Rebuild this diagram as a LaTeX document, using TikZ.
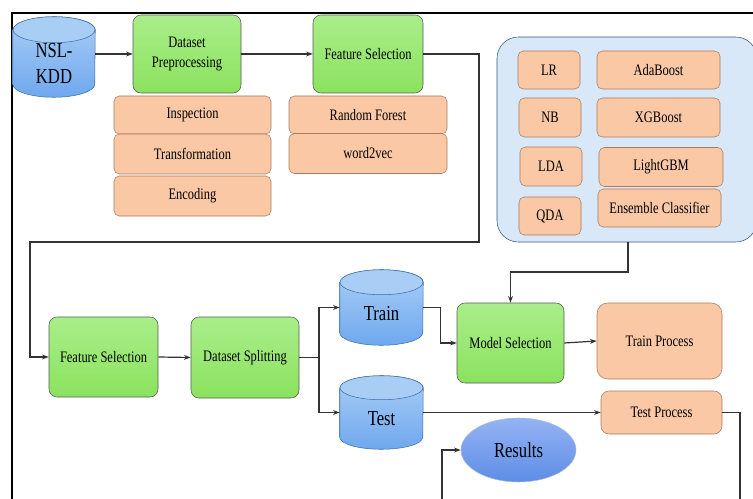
\documentclass[tikz,border=0pt]{standalone}
\usepackage{fontspec}
\setmainfont{Liberation Serif}[FakeStretch=0.78]
\usetikzlibrary{arrows.meta,shapes.geometric}

\definecolor{grnTop}{HTML}{A9EE8A}
\definecolor{grnBot}{HTML}{8BE25E}
\definecolor{orgFill}{HTML}{FAC8A5}
\definecolor{orgLine}{HTML}{A87C5E}
\definecolor{cylTop}{HTML}{A9CEF6}
\definecolor{cylBot}{HTML}{6FA8EE}
\definecolor{cylLine}{HTML}{3F6FA8}
\definecolor{resTop}{HTML}{94B3F4}
\definecolor{resBot}{HTML}{5E8DE6}
\definecolor{panelFill}{HTML}{D8E8F8}
\definecolor{panelLine}{HTML}{3A5583}

\newcommand{\lblfont}{\fontsize{12}{14.4}\selectfont}
\newcommand{\bigfont}{\fontsize{16}{19}\selectfont}

\tikzset{
  sz/.style 2 args={minimum width=#1*0.75pt, minimum height=#2*0.75pt, inner sep=0pt},
  stepbox/.style={draw=black!65, rounded corners=6pt, top color=grnTop, bottom color=grnBot, font=\lblfont, align=center},
  methbox/.style={draw=orgLine, fill=orgFill, rounded corners=4pt, font=\lblfont, align=center},
  link/.style={draw=black!80, line width=0.9pt},
  arr/.style={link, -{Stealth[length=5pt,width=3.6pt]}},
}

% database drum: name, centre, width, height, cap radius, label
\newcommand{\dbcyl}[6]{%
  \node[sz={#3}{#4}] (#1) at (#2) {};
  \path[draw=cylLine, top color=cylTop, bottom color=cylBot]
    ([yshift=-#5*0.75pt]#1.north west) -- ([yshift=#5*0.75pt]#1.south west)
    arc[start angle=180, end angle=360, x radius=#3*0.375pt, y radius=#5*0.75pt]
    -- ([yshift=-#5*0.75pt]#1.north east)
    arc[start angle=0, end angle=180, x radius=#3*0.375pt, y radius=#5*0.75pt] -- cycle;
  \draw[cylLine, fill=cylTop] ([yshift=-#5*0.75pt]#1.north) ellipse[x radius=#3*0.375pt, y radius=#5*0.75pt];
  \node[font=\bigfont, align=center] at ([yshift=-#5*0.375pt]#1.center) {#6};
}

\begin{document}
\begin{tikzpicture}[x=0.75pt, y=-0.75pt]
  \useasboundingbox (0,0) rectangle (753,499);
  \clip (0,0) rectangle (753,499);

  % outer frame
  \draw[line width=2pt, black] (12,13) rectangle (790,560);

  % top row
  \dbcyl{nsl}{54,57}{82}{80}{13}{NSL-\\KDD}
  \node[stepbox, sz={108}{78}] (dpre) at (187,54) {Dataset\\Preprocessing};
  \node[stepbox, sz={110}{78}] (fsel) at (368,54) {Feature Selection};

  \node[methbox, sz={157}{38}] (insp) at (192.5,115) {Inspection};
  \node[methbox, sz={157}{40}] (trans) at (192.5,154) {Transformation};
  \node[methbox, sz={157}{40}] (enc) at (192.5,196) {Encoding};

  \node[methbox, sz={158}{38}] (rf) at (368,115) {Random Forest};
  \node[methbox, sz={158}{40}] (w2v) at (368,153.5) {word2vec};

  % classifier panel
  \node[sz={260}{205}, rounded corners=16pt, fill=panelFill, draw=panelLine] (models) at (627,139.5) {};
  \node[methbox, sz={62}{38}] (lr) at (549,70) {LR};
  \node[methbox, sz={123}{38}] (ada) at (658.5,70) {AdaBoost};
  \node[methbox, sz={62}{39}] (nb) at (550,117.5) {NB};
  \node[methbox, sz={123}{39}] (xgb) at (658.5,117.5) {XGBoost};
  \node[methbox, sz={62}{39}] (lda) at (551,166.5) {LDA};
  \node[methbox, sz={124}{39}] (lgbm) at (661,167) {LightGBM};
  \node[methbox, sz={62}{38}] (qda) at (550,216) {QDA};
  \node[methbox, sz={123}{38}] (ens) at (659.5,208) {Ensemble Classifier};

  % lower row
  \node[stepbox, sz={109}{80}] (fsel2) at (103.5,357) {Feature Selection};
  \node[stepbox, sz={108}{81}] (dsplit) at (245,357.5) {Dataset Splitting};
  \dbcyl{train}{381.5,307.5}{83}{75}{12.5}{Train}
  \dbcyl{test}{381.5,412.5}{83}{73}{12}{Test}
  \node[stepbox, sz={107}{80}] (msel) at (510.5,343) {Model Selection};
  \node[methbox, sz={125}{76}, rounded corners=8pt] (trproc) at (659.5,341) {Train Process};
  \node[methbox, sz={121}{43}, rounded corners=6pt] (teproc) at (661.5,412.5) {Test Process};
  \node[ellipse, sz={115}{64}, top color=resTop, bottom color=resBot, draw=resTop!80!black!60, font=\bigfont] (results) at (518.5,450) {Results};

  % connectors
  \coordinate (bendR) at (479,242);
  \coordinate (bendL) at (30,242);
  \coordinate (mjoin) at (628,272);
  \coordinate (fork) at (319,357.5);
  \coordinate (outR) at (740,560);
  \coordinate (inL) at (442,560);

  \draw[arr] (nsl.east |- dpre.west) -- (dpre.west);
  \draw[arr] (dpre.east) -- (fsel.west);
  \draw[arr] (fsel.east) -| (bendR) -- (bendL) |- (fsel2.west);
  \draw[arr] (models.south -| mjoin) -- (mjoin) -| (msel.north);
  \draw[arr] (fsel2.east) -- (dsplit.west);
  \draw[link] (dsplit.east) -- (fork);
  \draw[arr] (fork) |- (train.west);
  \draw[arr] (fork) |- (test.west);
  \draw[arr] (train.east) -- ++(17,0) |- (msel.west);
  \draw[arr] (msel.east) -- (trproc.west);
  \draw[arr] (test.east) -- (teproc.west);
  \draw[link] (teproc.east) -| (outR);
  \draw[arr] (inL) |- (results.west);
\end{tikzpicture}
\end{document}
